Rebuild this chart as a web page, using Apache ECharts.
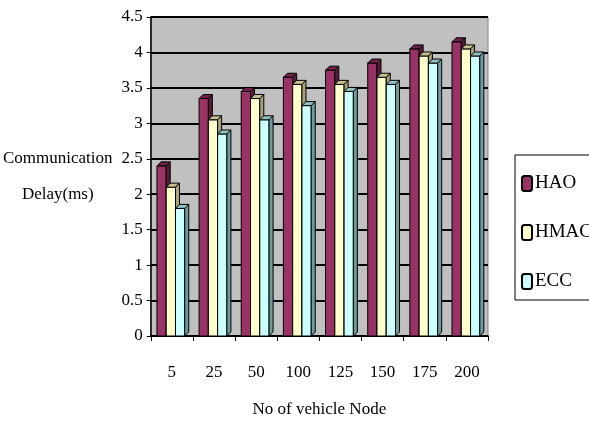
<!DOCTYPE html>
<html>
<head>
<meta charset="utf-8">
<script src="https://cdn.jsdelivr.net/npm/echarts@6/dist/echarts.min.js"></script>
<style>
  html, body { margin: 0; padding: 0; background: #fff; }
  #chart { width: 589px; height: 439px; }
</style>
</head>
<body>
<div id="chart"></div>
<script>
var categories = ['5', '25', '50', '100', '125', '150', '175', '200'];
var haoValues = [2.4, 3.35, 3.45, 3.65, 3.75, 3.85, 4.05, 4.15];
var hmacValues = [2.1, 3.05, 3.35, 3.55, 3.55, 3.65, 3.95, 4.05];
var eccValues = [1.8, 2.85, 3.05, 3.25, 3.45, 3.55, 3.85, 3.95];

var serif = '"Liberation Serif", "DejaVu Serif", serif';

// draws one pseudo-3D bar: front face, top face and right side
function bar3d(slot, front, top, side) {
  return function (params, api) {
    var cat = api.value(0),
      p = api.coord([cat, api.value(1)]),
      base = api.coord([cat, 0]),
      band = api.size([1, 0])[0],
      w = band * 0.22,
      d = 4,
      x = p[0] - 1.5 * w - 1 + slot * w;
    return {
      type: 'group',
      children: [
        {
          type: 'rect',
          shape: { x: x, y: p[1], width: w, height: base[1] - p[1] },
          style: { fill: front, stroke: '#000', lineWidth: 1 }
        },
        {
          type: 'polygon',
          shape: { points: [[x, p[1]], [x + d, p[1] - d], [x + w + d, p[1] - d], [x + w, p[1]]] },
          style: { fill: top, stroke: '#000', lineWidth: 1 }
        },
        {
          type: 'polygon',
          shape: { points: [[x + w, p[1]], [x + w + d, p[1] - d], [x + w + d, base[1] - d], [x + w, base[1]]] },
          style: { fill: side, stroke: '#000', lineWidth: 1 }
        }
      ]
    };
  };
}

function makeData(values) {
  return values.map(function (v, i) { return [i, v]; });
}

var myChart = echarts.init(document.getElementById('chart'));
var option = {
  backgroundColor: '#fff',
  animation: false,
  grid: {
    left: 150, right: 101, top: 17, bottom: 103,
    show: true,
    backgroundColor: '#c0c0c0',
    borderColor: '#808080',
    borderWidth: 1
  },
  legend: {
    orient: 'vertical',
    left: 515,
    top: 155,
    padding: [19, 40, 9, 6],
    itemGap: 30,
    itemWidth: 10,
    itemHeight: 15,
    icon: 'roundRect',
    borderColor: '#000',
    borderWidth: 1,
    textStyle: { fontFamily: serif, fontSize: 19, color: '#000', padding: [0, 0, 0, -2] },
    data: ['HAO', 'HMAC', 'ECC']
  },
  xAxis: {
    type: 'category',
    data: categories,
    name: 'No of vehicle Node',
    nameLocation: 'middle',
    nameGap: 65,
    nameTextStyle: { fontFamily: serif, fontSize: 17, color: '#000' },
    axisLine: { lineStyle: { color: '#000', width: 1.5 } },
    axisTick: { show: true, length: 5, lineStyle: { color: '#000' } },
    axisLabel: { fontFamily: serif, fontSize: 17, color: '#000', margin: 28 },
    splitLine: { show: false }
  },
  yAxis: {
    type: 'value',
    min: 0,
    max: 4.5,
    interval: 0.5,
    name: 'Communication\nDelay(ms)',
    nameLocation: 'middle',
    nameRotate: 0,
    nameGap: 93,
    nameTextStyle: { fontFamily: serif, fontSize: 17, color: '#000', lineHeight: 36, align: 'center' },
    axisLine: { show: true, lineStyle: { color: '#000', width: 1.5 } },
    axisTick: { show: true, length: 4, lineStyle: { color: '#000' } },
    axisLabel: { fontFamily: serif, fontSize: 17, color: '#000', margin: 8 },
    splitLine: { show: true, lineStyle: { color: '#000', width: 2 } }
  },
  series: [
    {
      name: 'HAO', type: 'custom',
      renderItem: bar3d(0, '#993366', '#6e2048', '#5a1a3a'),
      itemStyle: { color: '#993366', borderColor: '#000', borderWidth: 1.5 },
      encode: { x: 0, y: 1 },
      data: makeData(haoValues)
    },
    {
      name: 'HMAC', type: 'custom',
      renderItem: bar3d(1, '#ffffcc', '#c8c290', '#a8a478'),
      itemStyle: { color: '#ffffcc', borderColor: '#000', borderWidth: 1.5 },
      encode: { x: 0, y: 1 },
      data: makeData(hmacValues)
    },
    {
      name: 'ECC', type: 'custom',
      renderItem: bar3d(2, '#ccffff', '#90c4c4', '#6e9c9c'),
      itemStyle: { color: '#ccffff', borderColor: '#000', borderWidth: 1.5 },
      encode: { x: 0, y: 1 },
      data: makeData(eccValues)
    }
  ]
};
myChart.setOption(option, true);
</script>
</body>
</html>
